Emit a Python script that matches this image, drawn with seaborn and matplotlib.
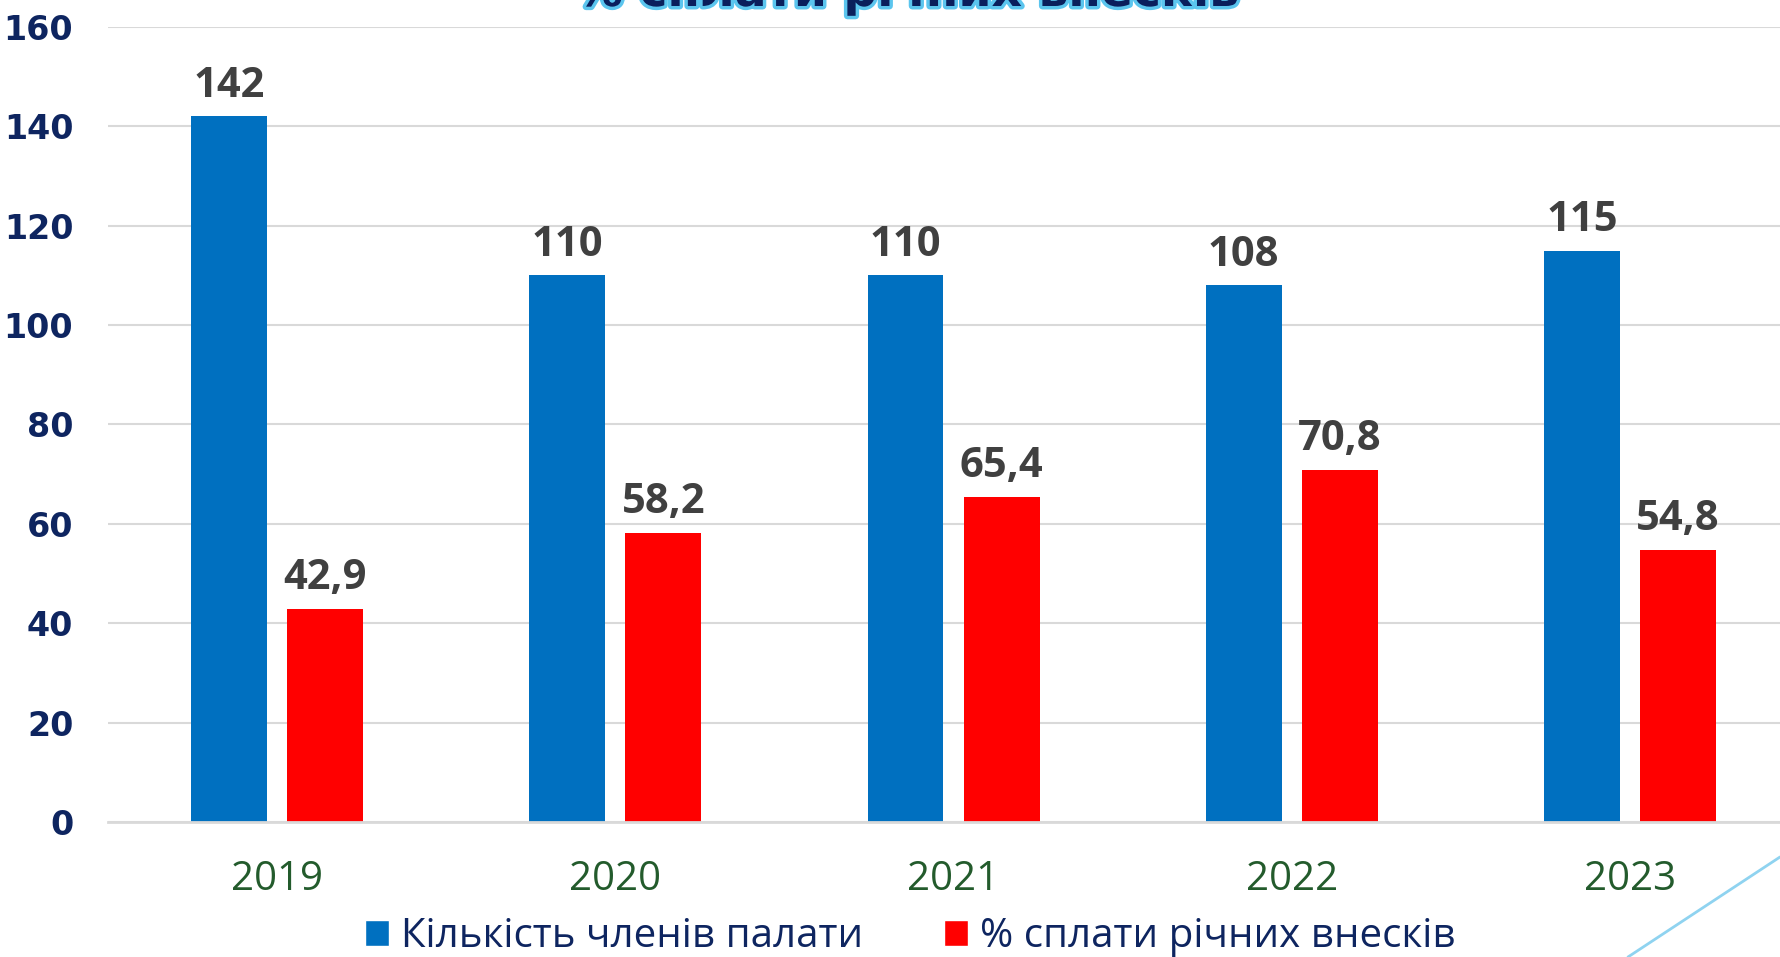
import pandas as pd
import seaborn as sns
import matplotlib.pyplot as plt
import matplotlib.patheffects as pe
from matplotlib import font_manager
from matplotlib.patches import Patch
from matplotlib.lines import Line2D

# Data
years = ['2019', '2020', '2021', '2022', '2023']
members = [142, 110, 110, 108, 115]
paid_pct = [42.9, 58.2, 65.4, 70.8, 54.8]
series_names = ['Кількість членів палати', '% сплати річних внесків']
title = '% сплати річних внесків'
y_ticks = [0, 20, 40, 60, 80, 100, 120, 140, 160]

df = pd.DataFrame({
    'year': years * 2,
    'value': members + paid_pct,
    'series': [series_names[0]] * len(years) + [series_names[1]] * len(years),
})

sns.set_style('white')
plt.rcParams['font.family'] = ['Open Sans', 'DejaVu Sans']

names = {f.name for f in font_manager.fontManager.ttflist}
narrow = 'Liberation Sans Narrow' if 'Liberation Sans Narrow' in names else 'Open Sans'

blue, red = '#0070c0', '#ff0000'
grid_c = '#d9d9d9'
navy = '#0e2560'

fig = plt.figure(figsize=(17.8, 9.57), dpi=100)
ax = fig.add_axes([0.0607, 0.1411, 0.95, 0.8307])

sns.barplot(data=df, x='year', y='value', hue='series', palette=[blue, red],
            width=0.568, gap=0.21, saturation=1, linewidth=0,
            legend=False, ax=ax)

# value labels
label_sets = [[str(v) for v in members],
              [f'{v:.1f}'.replace('.', ',') for v in paid_pct]]
for cont, labs in zip(ax.containers, label_sets):
    ax.bar_label(cont, labels=labs, padding=7, fontsize=30, fontweight='bold',
                 color='#404040', family='Open Sans')

ax.set_xlim(-0.5, 4.5)
ax.set_ylim(0, 160)
ax.set_yticks(y_ticks)
ax.set_xlabel('')
ax.set_ylabel('')

ax.yaxis.grid(True, color=grid_c, lw=1.5)
ax.set_axisbelow(True)
for s in ['top', 'right', 'left']:
    ax.spines[s].set_visible(False)
ax.spines['bottom'].set_color(grid_c)
ax.spines['bottom'].set_linewidth(2)

ax.set_xticks([i - 0.5 for i in range(len(years) + 1)], minor=True)
ax.tick_params(axis='x', which='minor', length=9, width=1.5, color=grid_c)
ax.tick_params(axis='x', which='major', length=0, pad=27)
ax.tick_params(axis='y', length=0, pad=25)

for t in ax.get_yticklabels():
    t.set_fontsize(24)
    t.set_fontweight('bold')
    t.set_color(navy)
    t.set_family('DejaVu Sans')
for t in ax.get_xticklabels():
    t.set_fontsize(29)
    t.set_color('#235b2c')
    t.set_family(narrow)

# legend
handles = [Patch(facecolor=blue), Patch(facecolor=red)]
leg = fig.legend(handles, series_names, loc='center', ncol=2,
                 bbox_to_anchor=(910 / 1780, 1 - 937 / 957), frameon=False,
                 prop={'family': narrow, 'size': 29},
                 handlelength=0.6, handleheight=0.6, handletextpad=0.3,
                 columnspacing=2.0, borderpad=0)
for t in leg.get_texts():
    t.set_color(navy)

# partially visible title at the top
fig.text(908 / 1780, 1 - 6 / 957, title, ha='center', va='baseline',
         fontsize=34, fontweight='bold', color='#0a1f5c', family='DejaVu Sans',
         path_effects=[pe.withStroke(linewidth=5, foreground='#5bc5ee')])

# decorative diagonal line bottom right
fig.add_artist(Line2D([1.0, 1628 / 1780], [1 - 857 / 957, 0],
                      transform=fig.transFigure, color='#8fd3f0', lw=2))

fig.savefig('out.png', dpi=100)
